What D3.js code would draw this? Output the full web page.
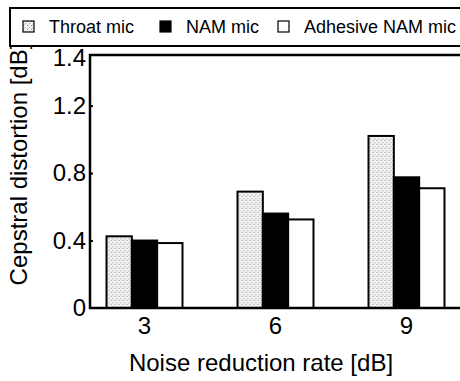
<!DOCTYPE html>
<html>
<head>
<meta charset="utf-8">
<script src="https://cdn.jsdelivr.net/npm/d3@7"></script>
<style>
  body { margin: 0; background: #fff; }
  text { font-family: 'Liberation Sans', Arial, sans-serif; fill: #000; }
</style>
</head>
<body>
<div id="viz"></div>
<script>
const width = 460;
const height = 381;
const margin = {top: 55, right: -1, bottom: 73, left: 90};

// Data
const categories = ['3', '6', '9'];
const seriesNames = ['Throat mic', 'NAM mic', 'Adhesive NAM mic'];
const throatMic = [0.425, 0.69, 1.02];
const namMic = [0.40, 0.56, 0.775];
const adhesiveMic = [0.385, 0.525, 0.71];
const yTicks = [0, 0.4, 0.8, 1.2, 1.4];

const seriesValues = [throatMic, namMic, adhesiveMic];
const fills = ['url(#dots)', '#000', '#fff'];

const svg = d3.select('#viz')
  .append('svg')
    .attr('width', width)
    .attr('height', height);

// stipple pattern for the throat mic bars
const pat = svg.append('defs').append('pattern')
    .attr('id', 'dots')
    .attr('patternUnits', 'userSpaceOnUse')
    .attr('width', 4)
    .attr('height', 4);
pat.append('rect').attr('width', 4).attr('height', 4).attr('fill', '#f2f2f2');
pat.append('rect').attr('x', 0).attr('y', 0).attr('width', 1).attr('height', 1).attr('fill', '#9a9a9a');
pat.append('rect').attr('x', 2).attr('y', 2).attr('width', 1).attr('height', 1).attr('fill', '#b0b0b0');
pat.append('rect').attr('x', 1).attr('y', 3).attr('width', 1).attr('height', 1).attr('fill', '#cfcfcf');

const xScale = d3.scaleBand()
  .domain(categories)
  .range([margin.left, width - margin.right])
  .paddingInner(0.42)
  .paddingOuter(0.126);

const xSub = d3.scaleBand()
  .domain(seriesNames)
  .range([0, xScale.bandwidth()]);

const yScale = d3.scaleLinear()
  .domain([0, 1.5])
  .range([height - margin.bottom, margin.top]);

// bars
const groups = svg.append('g').selectAll('g')
  .data(categories)
  .join('g')
    .attr('transform', d => `translate(${xScale(d)},0)`);

groups.selectAll('rect')
  .data((d, i) => seriesNames.map((s, j) => ({s, j, v: seriesValues[j][i]})))
  .join('rect')
    .attr('x', d => xSub(d.s))
    .attr('y', d => yScale(d.v))
    .attr('width', xSub.bandwidth())
    .attr('height', d => yScale(0) - yScale(d.v))
    .attr('fill', d => fills[d.j])
    .attr('stroke', '#000')
    .attr('stroke-width', 2);

// frame: left, top, bottom
const x0 = margin.left, x1 = width - margin.right;
const yTop = yScale.range()[1], yBot = yScale.range()[0];
svg.append('path')
  .attr('d', `M${x1},${yTop}H${x0}V${yBot}H${x1}`)
  .attr('fill', 'none')
  .attr('stroke', '#000')
  .attr('stroke-width', 2.5);

// y axis
const yAxis = svg.append('g')
  .attr('transform', `translate(${margin.left},0)`)
  .call(d3.axisRight(yScale).tickValues(yTicks).tickSize(3).tickFormat(d => d));
yAxis.select('.domain').remove();
yAxis.selectAll('line').attr('stroke-width', 2);
yAxis.selectAll('text')
  .attr('x', -4)
  .attr('text-anchor', 'end')
  .style('font-size', '24px');
yAxis.selectAll('.tick').filter(d => d === 1.4).select('text').attr('dy', '-0.25em');
yAxis.selectAll('.tick').filter(d => d === 1.4).select('line').remove();
yAxis.selectAll('.tick').filter(d => d === 0).select('line').remove();

// x axis
const xAxis = svg.append('g')
  .attr('transform', `translate(0,${yBot})`)
  .call(d3.axisBottom(xScale).tickSize(0).tickPadding(9));
xAxis.select('.domain').remove();
xAxis.selectAll('text').style('font-size', '24px');

// axis titles
svg.append('text')
  .attr('x', 261)
  .attr('y', 371)
  .attr('text-anchor', 'middle')
  .style('font-size', '24px')
  .text('Noise reduction rate [dB]');

svg.append('text')
  .attr('transform', `translate(27,164) rotate(-90)`)
  .attr('text-anchor', 'middle')
  .style('font-size', '24px')
  .text('Cepstral distortion [dB]');

// legend
svg.append('rect')
  .attr('x', 10)
  .attr('y', 8)
  .attr('width', 470)
  .attr('height', 38)
  .attr('fill', '#fff')
  .attr('stroke', '#000')
  .attr('stroke-width', 2);

const legendX = [23, 160, 278];
const leg = svg.append('g').selectAll('g')
  .data(seriesNames)
  .join('g')
    .attr('transform', (d, i) => `translate(${legendX[i]},21)`);
leg.append('rect')
  .attr('width', 11)
  .attr('height', 11)
  .attr('fill', (d, i) => fills[i])
  .attr('stroke', '#000')
  .attr('stroke-width', 1.2);
leg.append('text')
  .attr('x', 26)
  .attr('y', 12)
  .style('font-size', '18px')
  .text(d => d);
</script>
</body>
</html>
